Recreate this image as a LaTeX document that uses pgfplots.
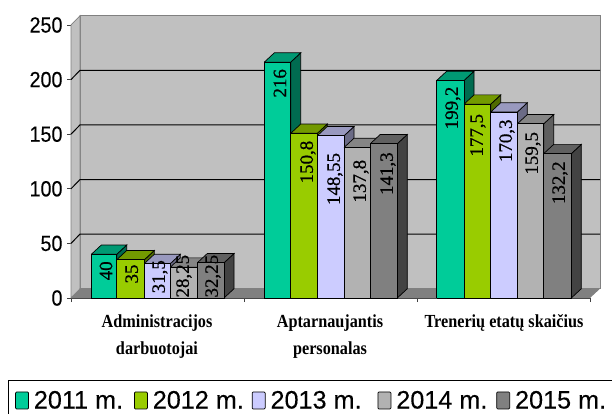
\documentclass[border=0pt]{standalone}
\usepackage{fontspec}
\setmainfont{Liberation Sans}
\newfontfamily\serifl[FakeBold=0.6]{Liberation Serif}
\newfontfamily\seriflb[FakeStretch=0.88]{Liberation Serif Bold}
\newfontfamily\sansn[FakeStretch=0.9,FakeBold=0.2]{Liberation Sans}
\newfontfamily\sansl[FakeBold=0.2]{Liberation Sans}
\usepackage{pgfplots}
\pgfplotsset{compat=1.18}
\definecolor{wall}{HTML}{C0C0C0}
\definecolor{floorc}{HTML}{808080}
\definecolor{fa}{HTML}{00CC99}\definecolor{ta}{HTML}{009973}\definecolor{sa}{HTML}{006B50}
\definecolor{fb}{HTML}{99CC00}\definecolor{tb}{HTML}{739900}\definecolor{sb}{HTML}{506B00}
\definecolor{fc}{HTML}{CCCCFF}\definecolor{tc}{HTML}{9999BF}\definecolor{sc}{HTML}{6B6B86}
\definecolor{fd}{HTML}{B2B2B2}\definecolor{td}{HTML}{858585}\definecolor{sd}{HTML}{5E5E5E}
\definecolor{fe}{HTML}{808080}\definecolor{te}{HTML}{606060}\definecolor{se}{HTML}{434343}
% #1 left, #2 right, #3 value, #4 front, #5 top, #6 side, #7 label x, #8 label centre y (value units), #9 label
\newcommand\threedbar[9]{%
  \pgfmathsetmacro\xb{#2+10}\pgfmathsetmacro\xa{#1+10}%
  \pgfmathsetmacro\yt{#3+8.5}%
  \addplot[draw=black,line width=0.7bp,fill=#6,forget plot] coordinates {(#2,0) (\xb,8.5) (\xb,\yt) (#2,#3) (#2,0)};
  \addplot[draw=black,line width=0.7bp,fill=#5,forget plot] coordinates {(#1,#3) (\xa,\yt) (\xb,\yt) (#2,#3) (#1,#3)};
  \addplot[draw=black,line width=0.7bp,fill=#4,forget plot] coordinates {(#1,0) (#2,0) (#2,#3) (#1,#3) (#1,0)};
  \edef\tmp{\noexpand\node[barlab] at (axis cs:#7,#8) {#9};}\tmp
}
\tikzset{barlab/.style={rotate=90,inner sep=0pt,font=\serifl\fontsize{19}{19}\selectfont,text=black}}
\begin{document}
\begin{tikzpicture}[x=1bp,y=1bp]
\clip (0,0) rectangle (612,413);
\path[use as bounding box] (0,0) rectangle (612,413);
\draw[line width=1bp,black] (8,-6) rectangle (625,33);
\begin{axis}[
  at={(71bp,115bp)},anchor=south west,
  scale only axis,width=519bp,height=273bp,
  xmin=71,xmax=590,ymin=0,ymax=250,clip=false,
  axis lines*=left,
  axis line style={line width=0.8bp,color=black!75},
  tick align=outside,
  major tick length=4bp,
  tick style={line width=0.7bp,color=black!75},
  xtick={71,244,417,590},xticklabels={},
  ytick={0,50,100,150,200,250},
  /pgf/number format/assume math mode=true,
  yticklabel style={font=\sansn\fontsize{22}{22}\selectfont,xshift=-1bp},
  extra x ticks={157,330,504},
  extra x tick labels={{Administracijos\\darbuotojai},{Aptarnaujantis\\personalas},{Trenerių etatų skaičius}},
  extra x tick style={major tick length=0pt,xticklabel style={font=\seriflb\fontsize{18.5}{27}\selectfont,align=center,anchor=north,yshift=-13bp}},
  legend style={draw=none,fill=none,at={(-0.1137,-0.325)},anchor=north west,font=\sansl\fontsize{25.3}{25.3}\selectfont,
    legend columns=5,inner xsep=3bp,inner ysep=2bp,
    /tikz/column 1/.style={column sep=3bp},/tikz/column 3/.style={column sep=3bp},
    /tikz/column 5/.style={column sep=3bp},/tikz/column 7/.style={column sep=3bp},/tikz/column 9/.style={column sep=3bp},
    /tikz/column 2/.style={column sep=9bp},/tikz/column 4/.style={column sep=6bp},
    /tikz/column 6/.style={column sep=14bp},/tikz/column 8/.style={column sep=7bp}},
  legend cell align=left,
  legend image code/.code={\draw[#1,line width=0.7bp,rounded corners=1bp] (0bp,-8.5bp) rectangle (13bp,8.5bp);},
]
% walls and floor
\addplot[draw=floorc,line width=0.7bp,fill=wall,forget plot] coordinates {(80,8.5) (600,8.5) (600,258.5) (80,258.5) (80,8.5)};
\addplot[draw=floorc,line width=0.7bp,fill=wall,forget plot] coordinates {(71,0) (80,8.5) (80,258.5) (71,250) (71,0)};
\addplot[draw=none,fill=floorc,forget plot] coordinates {(71,0) (80,8.5) (600,8.5) (590,0) (71,0)};
% gridlines
\addplot[black,line width=1bp,forget plot] coordinates {(71,50) (80,58.5) (600,58.5)};
\addplot[black,line width=1bp,forget plot] coordinates {(71,100) (80,108.5) (600,108.5)};
\addplot[black,line width=1bp,forget plot] coordinates {(71,150) (80,158.5) (600,158.5)};
\addplot[black,line width=1bp,forget plot] coordinates {(71,200) (80,208.5) (600,208.5)};
% legend keys
\addlegendimage{fill=fa,draw=black}\addlegendentry{2011 m.}
\addlegendimage{fill=fb,draw=black}\addlegendentry{2012 m.}
\addlegendimage{fill=fc,draw=black}\addlegendentry{2013 m.}
\addlegendimage{fill=fd,draw=black}\addlegendentry{2014 m.}
\addlegendimage{fill=fe,draw=black}\addlegendentry{2015 m.}
% Administracijos darbuotojai
\threedbar{91.3}{116.7}{40}{fa}{ta}{sa}{106}{24.9}{40}
\threedbar{116.7}{144.3}{35}{fb}{tb}{sb}{131.7}{22}{35}
\threedbar{144.3}{170.3}{31.5}{fc}{tc}{sc}{160}{19.5}{31,5}
\threedbar{170.3}{197.3}{28.25}{fd}{td}{sd}{184}{20}{28,25}
\threedbar{197.3}{224}{32.25}{fe}{te}{se}{213}{20}{32,25}
% Aptarnaujantis personalas
\threedbar{264.3}{290.7}{216}{fa}{ta}{sa}{280}{196.6}{216}
\threedbar{290.7}{317.3}{150.8}{fb}{tb}{sb}{308}{124.5}{150,8}
\threedbar{317.3}{344}{148.55}{fc}{tc}{sc}{335}{109}{148,55}
\threedbar{344}{370.3}{137.8}{fd}{td}{sd}{361}{107}{137,8}
\threedbar{370.3}{397.3}{141.3}{fe}{te}{se}{388}{113.9}{141,3}
% Treneriu etatu skaicius
\threedbar{436.7}{464}{199.2}{fa}{ta}{sa}{453}{174}{199,2}
\threedbar{464}{490.7}{177.5}{fb}{tb}{sb}{478}{149}{177,5}
\threedbar{490.7}{517.3}{170.3}{fc}{tc}{sc}{507}{144}{170,3}
\threedbar{517.3}{543.7}{159.5}{fd}{td}{sd}{533}{132.5}{159,5}
\threedbar{543.7}{571.3}{132.2}{fe}{te}{se}{560}{105.6}{132,2}
\end{axis}
\end{tikzpicture}
\end{document}
